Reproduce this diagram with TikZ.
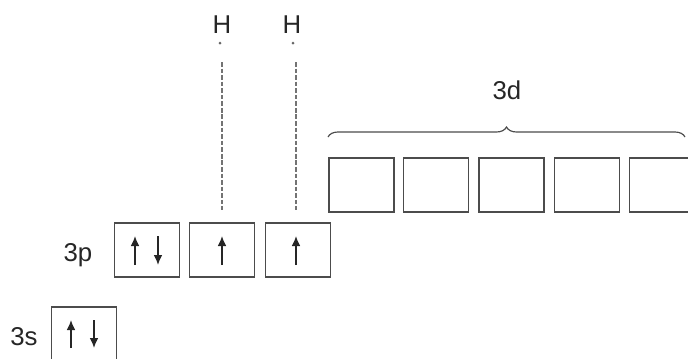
\documentclass[tikz,border=0pt]{standalone}
\usepackage{fontspec}
\setmainfont{Liberation Sans}
\usetikzlibrary{positioning,arrows.meta,decorations.pathreplacing,calc}

\tikzset{
  orb/.style={draw=black!70,line width=1.2pt,minimum width=1.95cm,minimum height=1.62cm,inner sep=0pt},
  lbl/.style={font=\fontsize{22}{24}\selectfont,text=black!85,anchor=base,inner sep=0pt},
  spin/.style={line width=1.1pt,black!85,-{Latex[length=3mm,width=2.6mm]}},
  bond/.style={black!55,line width=1.4pt,dash pattern=on 4pt off 1.6pt}
}

\begin{document}
\begin{tikzpicture}[x=0.03cm,y=-0.03cm]
  \useasboundingbox (0,0) rectangle (688,359);
  % 3s and 3p orbitals
  \node[orb] (s1) at (84,334) {};
  \node[orb] (p1) at (147,250) {};
  \node[orb] (p2) at (222,250) {};
  \node[orb] (p3) at (298,250) {};
  \node[lbl] (s) at (24,345) {3s};
  \node[lbl] (p) at (78,261) {3p};
  % 3d orbitals
  \foreach \i/\x in {1/361.5,2/436,3/511.5,4/587,5/662}
    \node[orb] (d\i) at (\x,185) {};
  \draw[black!70,line width=1pt,decorate,decoration={brace,amplitude=0.3cm}]
    (328,137) coordinate (bl) -- (685,137) coordinate (br);
  \node[lbl] (d) at (507,99) {3d};
  % electrons
  \draw[spin] ($(s1.center)+(-13,14)$) -- ($(s1.center)+(-13,-14)$);
  \draw[spin] ($(s1.center)+(10,-14)$) -- ($(s1.center)+(10,14)$);
  \draw[spin] ($(p1.center)+(-12,15)$) -- ($(p1.center)+(-12,-14)$);
  \draw[spin] ($(p1.center)+(11,-14)$) -- ($(p1.center)+(11,15)$);
  \draw[spin] ($(p2.center)+(0,15)$) -- ($(p2.center)+(0,-14)$);
  \draw[spin] ($(p3.center)+(-2,15)$) -- ($(p3.center)+(-2,-14)$);
  % hydrogens
  \node[lbl] (h1) at (222,33) {H};
  \node[lbl] (h2) at (292,33) {H};
  \fill[black!60] (220,43) circle (1.5);
  \fill[black!60] (293,43) circle (1.5);
  \coordinate (top) at (0,62);
  \coordinate (e2) at ($(p2.north)+(0,-12)$);
  \coordinate (e3) at ($(p3.north)+(-2,-12)$);
  \draw[bond] (e2 |- top) -- (e2);
  \draw[bond] (e3 |- top) -- (e3);
\end{tikzpicture}
\end{document}
